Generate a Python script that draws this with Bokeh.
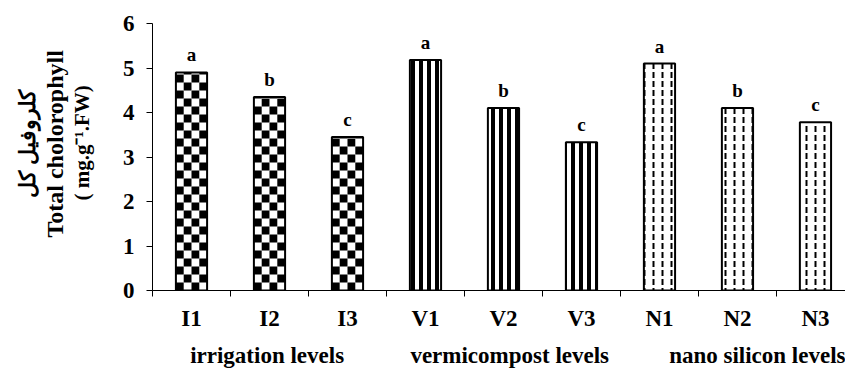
import math
from bokeh.plotting import figure
from bokeh.models import (ColumnDataSource, FixedTicker, LinearAxis, Title, Range1d)
from bokeh.core.properties import value
from bokeh.embed import file_html
from bokeh.resources import INLINE

# ---- data ----
categories = ["I1", "I2", "I3", "V1", "V2", "V3", "N1", "N2", "N3"]
chlorophyll = [4.90, 4.35, 3.45, 5.18, 4.10, 3.33, 5.10, 4.10, 3.78]
letters = ["a", "b", "c", "a", "b", "c", "a", "b", "c"]
groups = ["irrigation levels", "vermicompost levels", "nano silicon levels"]
group_pos = [1.47, 4.58, 7.78]
y_ticks = [0, 1, 2, 3, 4, 5, 6]

FONT = "Liberation Serif"
BAR_W = 0.4
xs = [i + 0.5 for i in range(len(categories))]

p = figure(width=845, height=370, output_backend="svg", toolbar_location=None,
           x_range=Range1d(0, 8.885), y_range=Range1d(0, 6),
           min_border_left=152, min_border_top=23, min_border_bottom=80,
           min_border_right=0, x_axis_type=None, y_axis_type=None)
p.outline_line_color = None
p.xgrid.visible = False
p.ygrid.visible = False
p.background_fill_color = "white"
p.border_fill_color = "white"

# white base bars
src = ColumnDataSource(dict(x=xs, top=chlorophyll, lab=letters))
p.vbar(x="x", top="top", width=BAR_W, source=src, fill_color="white", line_color=None)

# irrigation: checkerboard fill (cells derived from the bar values)
cw = BAR_W / 4
ch = 8.0 / 44.5
L, R, B, T = [], [], [], []
for k in range(3):
    c, h = xs[k], chlorophyll[k]
    rows = math.ceil(h / ch)
    for i in range(rows):
        for j in range(4):
            if (i + j) % 2 == 0:
                L.append(c - BAR_W / 2 + j * cw)
                R.append(c - BAR_W / 2 + (j + 1) * cw)
                B.append(i * ch)
                T.append(min((i + 1) * ch, h))
p.quad(left=L, right=R, bottom=B, top=T, fill_color="black", line_color=None)

# vermicompost: vertical stripes
p.vbar(x=xs[3:6], top=chlorophyll[3:6], width=BAR_W, fill_color="white", line_color=None,
       hatch_pattern="vertical_line", hatch_scale=8, hatch_weight=4, hatch_color="black")
# nano silicon: dashed vertical lines
p.vbar(x=xs[6:9], top=chlorophyll[6:9], width=BAR_W, fill_color="white", line_color=None,
       hatch_pattern="vertical_dash", hatch_scale=9, hatch_weight=2, hatch_color="black")

# outlines
p.vbar(x="x", top="top", width=BAR_W, source=src, fill_color=None,
       line_color="black", line_width=2)

# significance letters
p.text(x="x", y="top", text="lab", source=src, text_align="center",
       text_baseline="bottom", y_offset=-7, text_font=value(FONT),
       text_font_style="bold", text_font_size="19px", text_color="black")

# y axis
yax = LinearAxis(ticker=FixedTicker(ticks=y_ticks))
yax.axis_line_color = "black"
yax.major_tick_out = 6
yax.major_tick_in = 0
yax.minor_tick_line_color = None
yax.major_label_standoff = 12
yax.major_label_text_font = FONT
yax.major_label_text_font_style = "bold"
yax.major_label_text_font_size = "23px"
yax.major_label_text_color = "black"
yax.axis_label = " "
yax.axis_label_text_font_size = "1px"
yax.axis_label_standoff = 22
p.add_layout(yax, "left")

# y-axis title (three lines)
for txt, off, size in [("( mg.g⁻¹.FW)", 90, "21px"),
                       ("Total cholorophyll", 53, "24px"),
                       ("کلروفیل کل", 93, "22px")]:
    p.add_layout(Title(text=txt, align="left", offset=off, standoff=0,
                       text_font=FONT, text_font_style="bold",
                       text_font_size=size, text_color="black"), "left")

# x axis with ticks at category boundaries
xax = LinearAxis(ticker=FixedTicker(ticks=list(range(len(categories)))))
xax.major_tick_out = 6
xax.major_tick_in = 0
xax.minor_tick_line_color = None
xax.major_label_text_font_size = "0px"
xax.major_label_standoff = 0
xax.major_label_overrides = {i: "" for i in range(len(categories))}
p.add_layout(xax, "below")

# category labels
cax = LinearAxis(ticker=FixedTicker(ticks=xs))
cax.axis_line_color = None
cax.major_tick_line_color = None
cax.minor_tick_line_color = None
cax.major_label_overrides = {x: c for x, c in zip(xs, categories)}
cax.major_label_standoff = 3
cax.major_label_text_font = FONT
cax.major_label_text_font_style = "bold"
cax.major_label_text_font_size = "23px"
cax.major_label_text_color = "black"
p.add_layout(cax, "below")

# group labels
gax = LinearAxis(ticker=FixedTicker(ticks=group_pos))
gax.axis_line_color = None
gax.major_tick_line_color = None
gax.minor_tick_line_color = None
gax.major_label_overrides = {x: g for x, g in zip(group_pos, groups)}
gax.major_label_standoff = 3
gax.major_label_text_font = FONT
gax.major_label_text_font_style = "bold"
gax.major_label_text_font_size = "23px"
gax.major_label_text_color = "black"
p.add_layout(gax, "below")

open("out.html", "w").write(file_html(p, INLINE))
